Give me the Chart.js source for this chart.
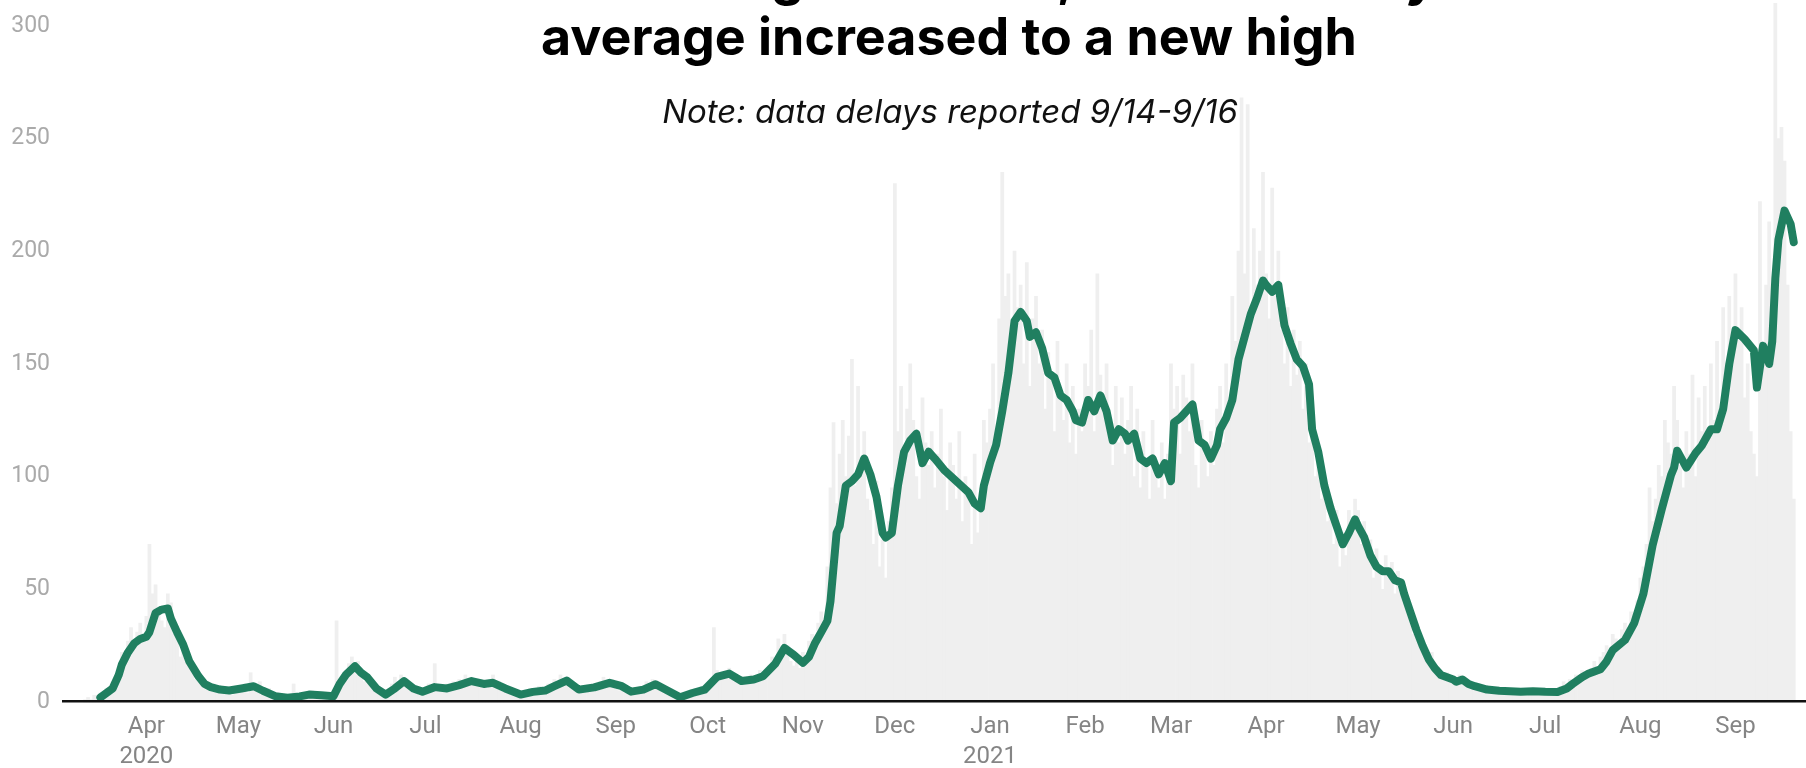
<!DOCTYPE html>
<html>
<head>
<meta charset="utf-8">
<script src="https://cdn.jsdelivr.net/npm/chart.js@4.4.1/dist/chart.umd.min.js"></script>
<style>
html,body{margin:0;padding:0;background:#fff;overflow:hidden}
canvas{display:block}
</style>
</head>
<body>
<canvas id="c" width="1806" height="768"></canvas>
<script>
// Day numbers count from 2020-03-01 (day 0).
const barStartDay = 11; // 2020-03-12
const dailyValues = [
  // Mar 12-31 2020
  1,2,1,3,2,4,3,6,5,9,8,14,22,18,27,33,24,31,35,27,
  // Apr 2020
  38,70,48,52,40,36,33,48,44,30,28,20,25,21,16,13,10,12,8,7,9,6,8,5,7,4,6,5,3,7,
  // May
  6,5,8,4,13,7,6,9,5,4,6,3,2,4,1,3,2,1,8,2,3,2,4,3,5,2,4,3,2,3,2,
  // Jun
  4,36,10,12,14,17,20,15,18,13,9,12,7,5,6,3,4,2,5,8,11,9,12,10,7,5,4,6,3,5,
  // Jul
  6,8,5,17,6,7,5,8,6,9,7,10,8,12,9,11,8,7,10,9,6,8,12,7,9,5,6,4,3,4,5,
  // Aug
  2,4,3,6,5,4,7,6,5,8,6,10,9,12,8,11,9,6,7,5,4,6,7,5,8,6,9,11,7,8,10,
  // Sep
  6,5,7,4,6,3,5,4,7,6,9,8,10,7,6,5,4,3,5,2,3,1,2,4,3,5,6,4,7,5,
  // Oct
  6,9,33,14,10,13,11,15,12,10,8,11,9,10,12,8,11,14,10,13,16,20,19,28,22,30,25,18,16,20,15,
  // Nov
  22,18,27,30,24,35,40,31,60,95,124,88,110,125,100,118,152,96,140,105,120,90,85,70,98,60,72,55,80,95,
  // Dec
  230,120,140,110,130,150,125,100,90,135,115,105,120,95,110,130,100,85,115,105,90,120,80,100,95,70,110,75,95,125,115,
  // Jan 2021
  130,150,120,170,235,180,190,160,200,175,185,150,195,140,170,180,150,165,130,155,145,120,160,135,125,150,115,140,110,130,120,
  // Feb
  150,140,165,120,190,145,130,150,120,105,140,115,135,110,125,140,100,130,95,120,105,90,125,100,95,115,90,110,
  // Mar
  150,130,140,110,145,135,120,150,105,95,125,110,100,120,105,130,140,115,150,135,180,160,200,268,190,265,175,210,185,200,235,
  // Apr
  190,170,228,180,200,165,150,175,140,165,145,160,130,150,115,125,100,110,90,95,80,90,70,85,60,75,65,85,80,90,
  // May
  85,70,80,65,72,55,68,60,50,65,55,62,48,58,50,45,42,38,30,35,25,28,20,18,22,14,15,12,10,13,9,
  // Jun
  11,8,12,9,10,7,8,6,7,5,6,4,6,5,4,6,5,4,5,3,5,4,6,3,5,4,5,6,3,5,
  // Jul
  4,6,5,3,5,7,9,6,10,8,12,11,14,10,13,15,18,12,20,22,25,18,30,28,24,32,35,27,40,38,45,
  // Aug
  55,60,70,95,80,90,105,100,125,115,110,140,125,105,95,120,110,145,100,135,120,140,115,150,125,160,130,175,145,180,155,
  // Sep 1-20
  190,165,175,135,150,120,110,100,222,160,185,213,150,310,250,255,240,185,120,90
];

const avgDays = [
  16,18,20,22,23,25,27,29,31,32,34,36,38,39,41,43,45,48,50,52,
  55,58,62,66,69,73,77,81,84,88,92,94,96,99,101,103,106,109,112,115,
  118,121,125,129,133,137,141,144,148,153,157,161,164,168,172,177,182,186,189,193,
  197,201,205,209,213,217,221,225,229,232,236,239,242,245,247,249,251,253,254,256,
  257,259,261,263,265,267,269,271,272,274,276,278,280,282,284,286,288,291,295,299,
  301,303,304,306,308,310,312,314,316,318,319,321,323,325,327,329,331,333,334,336,
  338,340,342,344,346,348,350,351,353,355,357,359,361,363,365,366,368,370,372,374,
  376,378,380,381,383,385,387,389,391,393,395,396,398,400,402,404,406,408,410,411,
  413,415,417,419,421,423,425,426,428,430,432,434,436,438,440,441,443,445,447,449,
  451,453,455,457,458,460,462,464,468,472,479,483,487,491,494,496,499,501,505,507,
  509,513,516,519,522,525,528,529,530,533,536,538,541,543,545,547,549,552,555,556,
  558,560,561,562,563,565,567,568
];
const avgValues = [
  2,4,6,12,16.6,22,26,28,29,31,39.5,41,41.5,37,31,25.5,18,11.4,8,6.6,
  5.5,5.1,6,7,5,2.6,1.9,2.5,3.3,3,2.6,8,12,15.9,13,11,6,3.3,6,9.3,
  6,4.6,6.6,6,7.5,9.3,8,8.5,6,3.3,4.5,5.1,7,9.5,5.5,6.5,8.5,7,4.6,5.5,
  7.9,5,2.1,4,5.5,11.1,12.6,9.3,10,11.4,17,24,21,17.4,20,26.2,31,36,44.6,75,
  78,96,98,101,108,101,91,75,73,75,96,111,116,119,106,111,108,103,98,93,
  88,86,96,106,114,129,146,169,173,169,162,164,157,146,144,136,134,129,125,124,
  134,129,136,129,116,121,119,116,119,108,106,108,101,106,98,124,126,129,132,116,
  114,108,114,121,126,134,152,162,172,179,187,185,182,185,167,159,152,149,141,121,
  111,96,86,78,70,75,81,78,73,65,60,58,58,54,53,48,40,32,25,19,
  15,12,11,10,9,10,8,7,5.5,5,4.5,4.8,4.5,4.4,6,8.1,11,12.5,14.5,18,
  23,27.5,35,48,69.5,85.6,100.7,104,111.5,104,110.4,113.7,121,121,130,150,165,161,156,139.5,
  158,150,160,188,205,218,212,204
];

const monthTickDays = [31,61,92,122,153,184,214,245,275,306,337,365,396,426,457,487,518,549];
const monthTickLabels = [["Apr","2020"],"May","Jun","Jul","Aug","Sep","Oct","Nov","Dec",["Jan","2021"],"Feb","Mar","Apr","May","Jun","Jul","Aug","Sep"];
const yTickStep = 50;
const yMax = 300;

const titleLines = ["Admissions grew faster, and the 7-day", "average increased to a new high"];
const noteText = "Note: data delays reported 9/14-9/16";

const overlayPlugin = {
  id: 'overlay',
  afterDraw(chart) {
    const ctx = chart.ctx;
    ctx.save();
    // x-axis baseline across the full width, on top of the bars
    const y0 = Math.round(chart.scales.y.getPixelForValue(0));
    ctx.fillStyle = '#111';
    ctx.fillRect(chart.chartArea.left, y0 - 2, chart.width - chart.chartArea.left, 2.5);

    ctx.textAlign = 'center';
    ctx.textBaseline = 'alphabetic';
    ctx.fillStyle = '#000';
    let size = 46;
    ctx.font = `700 ${size}px Inter`;
    const w = ctx.measureText(titleLines[1]).width;
    size = size * 816 / w;
    ctx.font = `700 ${size}px Inter`;
    ctx.fillText(titleLines[0], 949, -5);
    ctx.fillText(titleLines[1], 949, 55);
    let ns = 30;
    ctx.font = `italic 400 ${ns}px Inter`;
    const nw = ctx.measureText(noteText).width;
    ns = ns * 576 / nw;
    ctx.font = `italic 400 ${ns}px Inter`;
    ctx.fillStyle = '#111';
    ctx.fillText(noteText, 950, 123);
    ctx.restore();
  }
};

new Chart(document.getElementById('c'), {
  type: 'bar',
  data: {
    datasets: [
      {
        type: 'line',
        order: 0,
        data: avgDays.map((d, i) => ({x: d, y: avgValues[i]})),
        borderColor: '#207f60',
        borderWidth: 8,
        borderCapStyle: 'round',
        borderJoinStyle: 'round',
        pointRadius: 0,
        tension: 0,
        fill: false
      },
      {
        type: 'bar',
        order: 1,
        data: dailyValues.map((v, i) => ({x: barStartDay + i, y: v})),
        backgroundColor: '#efefef',
        borderWidth: 0,
        barPercentage: 1,
        categoryPercentage: 1,
        clip: false
      }
    ]
  },
  options: {
    responsive: false,
    devicePixelRatio: 1,
    animation: false,
    layout: {padding: {top: 19, left: 0, right: 0, bottom: 0}},
    plugins: {legend: {display: false}, tooltip: {enabled: false}, title: {display: false}},
    scales: {
      x: {
        type: 'linear',
        offset: false,
        min: 3.5,
        max: 572,
        grid: {display: false, drawTicks: false, offset: false},
        border: {display: false},
        afterBuildTicks: s => { s.ticks = monthTickDays.map(v => ({value: v})); },
        afterFit: s => { s.height = 66; },
        ticks: {
          autoSkip: false,
          maxRotation: 0,
          padding: 10,
          color: '#858585',
          font: {family: 'Roboto', size: 24, lineHeight: 1.25},
          callback: (v, i) => monthTickLabels[i]
        }
      },
      y: {
        min: 0,
        max: yMax,
        grid: {display: false, drawTicks: false},
        border: {display: false},
        afterFit: s => { s.width = 62; },
        ticks: {
          stepSize: yTickStep,
          padding: 12,
          color: '#aaaaaa',
          font: {family: 'Roboto', size: 23}
        }
      }
    }
  },
  plugins: [overlayPlugin]
});
</script>
</body>
</html>
